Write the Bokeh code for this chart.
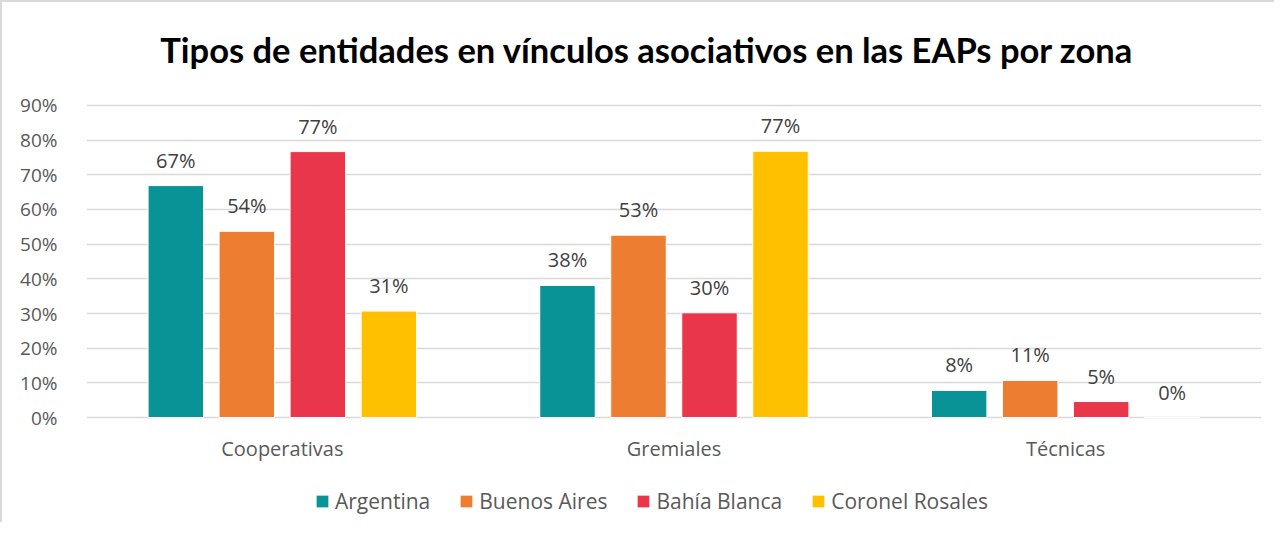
from bokeh.plotting import figure
from bokeh.models import (ColumnDataSource, FactorRange, Range1d, Legend, LegendItem,
                          LabelSet, Label, FixedTicker, PrintfTickFormatter)
from bokeh.transform import dodge
from bokeh.core.properties import value
from bokeh.embed import file_html
from bokeh.resources import INLINE

categories = ["Cooperativas", "Gremiales", "Técnicas"]
series = ["Argentina", "Buenos Aires", "Bahía Blanca", "Coronel Rosales"]
argentina = [66.9, 38.1, 7.8]
buenos_aires = [53.7, 52.6, 10.7]
bahia_blanca = [76.7, 30.2, 4.6]
coronel_rosales = [30.7, 76.8, 0.0]
colors = ["#0A9396", "#ED7D31", "#E9364A", "#FFC000"]
y_ticks = [0, 10, 20, 30, 40, 50, 60, 70, 80, 90]
title_text = "Tipos de entidades en vínculos asociativos en las EAPs por zona"

values = [argentina, buenos_aires, bahia_blanca, coronel_rosales]

FONT = "Open Sans"

# frame spans the whole height so that title, category names and legend
# can be placed freely; grid lines are only drawn at 0..90 %
p = figure(x_range=FactorRange(factors=categories, range_padding=0),
           y_range=Range1d(-29.71, 119.71), frame_width=1175, frame_height=518,
           output_backend="svg", toolbar_location=None,
           min_border_left=84, min_border_right=13, min_border_top=0,
           min_border_bottom=2)
p.outline_line_color = None
p.background_fill_color = "white"
p.border_fill_color = "white"

step = 0.1813
bar_w = 0.1417
offsets = [-1.5 * step, -0.5 * step, 0.5 * step, 1.5 * step]

items = []
for name, vals, col, off in zip(series, values, colors, offsets):
    src = ColumnDataSource(dict(cat=categories, val=vals,
                                lab=[f"{round(v):d}%" for v in vals]))
    r = p.vbar(x=dodge("cat", off, range=p.x_range), top="val", width=bar_w,
               source=src, fill_color=col, line_color="white", line_width=1)
    items.append(LegendItem(label=name, renderers=[r]))
    ls = LabelSet(x=dodge("cat", off, range=p.x_range), y="val", text="lab",
                  source=src, text_align="center", text_baseline="alphabetic",
                  y_offset=18, text_font=value(FONT), text_font_size="20px",
                  text_color="#404040")
    p.add_layout(ls)

cat_src = ColumnDataSource(dict(cat=categories, y0=[0] * len(categories)))
p.add_layout(LabelSet(x="cat", y="y0", text="cat", source=cat_src,
                      text_align="center", text_baseline="alphabetic",
                      y_offset=-38, text_font=value(FONT), text_font_size="20px",
                      text_color="#595959"))

p.add_layout(Label(x=560.5, y=471, x_units="screen", y_units="screen",
                   text=title_text, text_align="center",
                   text_baseline="alphabetic", text_font="Lato",
                   text_font_style="bold", text_font_size="34.5px",
                   text_color="black"))

p.yaxis.ticker = FixedTicker(ticks=y_ticks)
p.yaxis.formatter = PrintfTickFormatter(format="%d%%")
p.yaxis.axis_line_color = None
p.yaxis.major_tick_line_color = None
p.yaxis.minor_tick_line_color = None
p.yaxis.major_label_standoff = 23
p.yaxis.major_label_text_font = FONT
p.yaxis.major_label_text_font_size = "19px"
p.yaxis.major_label_text_color = "#595959"

p.xaxis.visible = False

p.xgrid.grid_line_color = None
p.ygrid.grid_line_color = "#d9d9d9"
p.ygrid.grid_line_width = 1.5

legend = Legend(items=items, orientation="horizontal", location=(228, 5),
                glyph_width=16, glyph_height=16, label_standoff=5, spacing=28,
                padding=0, margin=0, border_line_color=None,
                background_fill_alpha=0, label_text_font=FONT,
                label_text_font_size="21px", label_text_color="#595959")
p.add_layout(legend, "center")

p.styles = {"border-left": "2px solid #d9d9d9", "border-top": "2px solid #d9d9d9"}

open("out.html", "w").write(file_html(p, INLINE))
